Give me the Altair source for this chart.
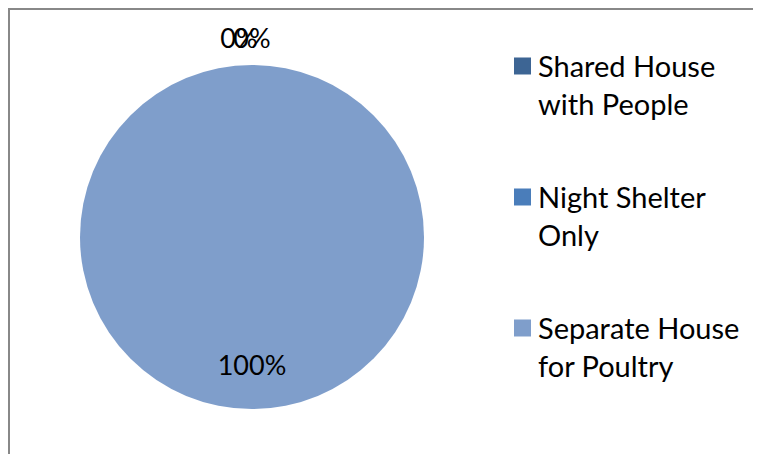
import altair as alt
import pandas as pd

categories = ["Shared House with People", "Night Shelter Only", "Separate House for Poultry"]
percentages = [0, 0, 100]
slice_order = [0, 1, 2]
slice_labels = ["0%", "0%", "100%"]
slice_colors = ["#3D6594", "#4A7DBA", "#7F9ECB"]

df = pd.DataFrame({
    "category": categories,
    "value": percentages,
    "order": slice_order,
    "label": slice_labels,
})

W, H = 745, 446
CX, CY = 244, 229
R = 172

color_enc = alt.Color(
    "category:N",
    scale=alt.Scale(domain=categories, range=slice_colors),
    sort=categories,
    legend=alt.Legend(
        title=None, orient="none", legendX=500, legendY=31, padding=0,
        labelExpr=r"split(replace(datum.label, regexp('^(\\S+ \\S+) '), '$1|'), '|')",
        labelFont="Lato", labelFontSize=29, labelColor="black",
        labelBaseline="top", labelLimit=400, labelOffset=1,
        symbolType="M-1,0.47L1,0.47L1,2.47L-1,2.47Z", symbolSize=289,
        symbolStrokeWidth=0,
        rowPadding=49,
    ),
)

arc = alt.Chart(df).mark_arc(outerRadius=R).encode(
    theta=alt.Theta("value:Q", stack=True),
    color=color_enc,
    order=alt.Order("order:Q"),
    x=alt.value(CX),
    y=alt.value(CY),
)

base = alt.Chart(df).transform_window(
    cum="sum(value)", sort=[alt.SortField("order")], frame=[None, 0]
).transform_calculate(mid="datum.cum - datum.value / 2")

def label_layer(idx, radius, dx):
    return base.transform_filter(alt.datum.order == idx).mark_text(
        radius=radius, dx=dx, font="Lato", fontSize=27, color="black"
    ).encode(
        theta=alt.Theta("mid:Q"),
        text="label:N",
        x=alt.value(CX),
        y=alt.value(CY),
    )

lab0 = label_layer(0, 197, -13)
lab1 = label_layer(1, 197, 0)
lab2 = label_layer(2, 130, 0)

border_top = alt.Chart(df).mark_rule(color="#888888", strokeWidth=2).encode(
    x=alt.value(0), x2=alt.value(W), y=alt.value(1)
)
border_left = alt.Chart(df).mark_rule(color="#888888", strokeWidth=2).encode(
    x=alt.value(1), y=alt.value(0), y2=alt.value(H)
)

chart = alt.layer(border_top, border_left, arc, lab0, lab1, lab2).properties(
    width=W, height=H, padding=0, autosize="none"
).configure(
    style={"guide-label": {"lineHeight": 38}}
).configure_view(strokeWidth=0)

chart.save("out.html", embed_options={"renderer": "svg", "actions": False})
